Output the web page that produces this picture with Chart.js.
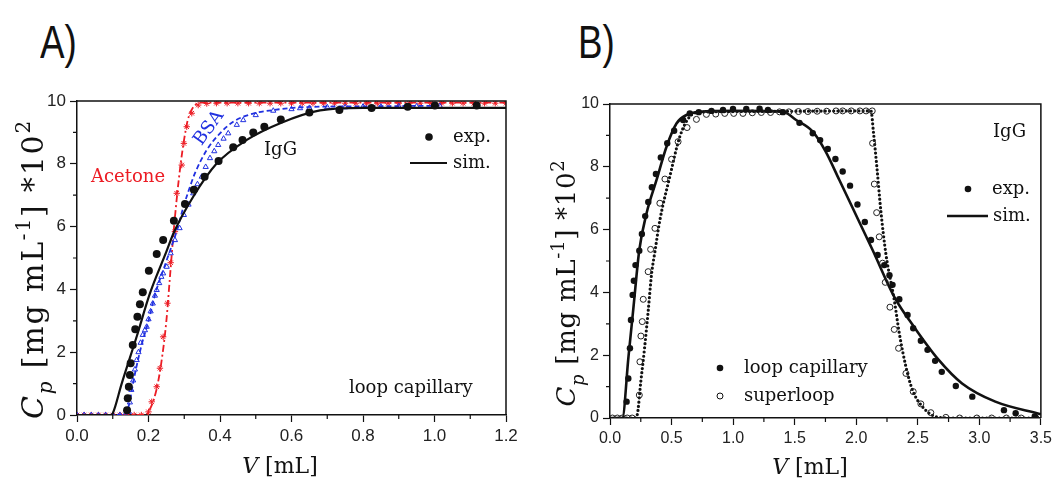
<!DOCTYPE html>
<html>
<head>
<meta charset="utf-8">
<script src="https://cdn.jsdelivr.net/npm/chart.js@4.4.1/dist/chart.umd.min.js"></script>
<style>
  body { margin: 0; background: #fff; width: 1056px; height: 479px; overflow: hidden; position: relative; }
  .panel { position: absolute; top: 0; width: 528px; height: 479px; }
  .tag { position: absolute; top: 19px; line-height: 46px; font-family: "Liberation Sans", Arial, sans-serif; font-size: 46px; color: #111; transform: scaleX(0.8); transform-origin: left center; }
</style>
</head>
<body>
<div class="tag" style="left:40px">A)</div>
<div class="tag" style="left:578px">B)</div>
<div class="panel" style="left:0"><canvas id="chartA" width="528" height="479"></canvas></div>
<div class="panel" style="left:528px"><canvas id="chartB" width="528" height="479"></canvas></div>

<script>
// =================== DATA: panel A (loop capillary) ===================
const acetoneExpV = [0.0, 0.02, 0.04, 0.06, 0.08, 0.10, 0.12, 0.14, 0.16, 0.18, 0.200, 0.209, 0.223, 0.232, 0.241, 0.253, 0.262, 0.274, 0.279, 0.293, 0.299, 0.307, 0.321, 0.339, 0.363, 0.39, 0.42, 0.45, 0.48, 0.51, 0.54, 0.57, 0.60, 0.63, 0.66, 0.69, 0.72, 0.75, 0.78, 0.81, 0.84, 0.87, 0.90, 0.93, 0.96, 0.99, 1.02, 1.05, 1.08, 1.11, 1.14, 1.17, 1.20];
const acetoneExpC = [0, 0, 0, 0, 0, 0, 0, 0, 0, 0, 0.10, 0.42, 0.90, 1.49, 2.49, 3.56, 4.85, 5.84, 7.06, 7.96, 8.65, 9.18, 9.61, 9.87, 9.92, 9.93, 9.93, 9.93, 9.93, 9.93, 9.93, 9.93, 9.93, 9.93, 9.93, 9.93, 9.93, 9.93, 9.93, 9.93, 9.93, 9.93, 9.93, 9.93, 9.93, 9.93, 9.93, 9.93, 9.93, 9.93, 9.93, 9.93, 9.93];
const acetoneSimV = [0, 0.19, 0.20, 0.22, 0.235, 0.25, 0.26, 0.27, 0.28, 0.29, 0.30, 0.31, 0.325, 0.345, 1.2];
const acetoneSimC = [0, 0, 0.1, 0.7, 1.6, 3.0, 4.4, 5.8, 7.0, 8.0, 8.8, 9.4, 9.8, 9.95, 9.95];

const bsaExpV = [0.0, 0.02, 0.04, 0.06, 0.08, 0.10, 0.12, 0.135, 0.145, 0.148, 0.152, 0.157, 0.162, 0.167, 0.172, 0.178, 0.184, 0.190, 0.195, 0.200, 0.206, 0.212, 0.218, 0.223, 0.230, 0.236, 0.241, 0.251, 0.262, 0.274, 0.287, 0.299, 0.312, 0.325, 0.337, 0.349, 0.360, 0.372, 0.384, 0.395, 0.410, 0.423, 0.447, 0.465, 0.50, 0.549, 0.60, 0.624, 0.65, 0.70, 0.75, 0.80, 0.85, 0.90, 0.95, 1.00, 1.015];
const bsaExpC = [0, 0, 0, 0, 0, 0, 0, 0.02, 0.1, 0.4, 0.8, 1.1, 1.45, 1.75, 2.0, 2.3, 2.55, 2.7, 2.81, 3.05, 3.3, 3.55, 3.8, 3.98, 4.2, 4.4, 4.51, 4.72, 5.15, 5.57, 5.95, 6.37, 6.7, 7.06, 7.35, 7.59, 7.9, 8.18, 8.4, 8.6, 8.8, 8.97, 9.24, 9.39, 9.55, 9.69, 9.74, 9.77, 9.78, 9.8, 9.8, 9.82, 9.82, 9.83, 9.83, 9.84, 9.84];
const bsaSimV = [0, 0.13, 0.145, 0.16, 0.18, 0.20, 0.22, 0.25, 0.28, 0.297, 0.311, 0.33, 0.363, 0.40, 0.437, 0.493, 0.549, 0.624, 0.80, 1.02];
const bsaSimC = [0, 0, 0.3, 1.2, 2.2, 3.0, 3.9, 4.9, 5.9, 6.6, 7.1, 7.7, 8.44, 8.97, 9.34, 9.6, 9.71, 9.8, 9.83, 9.85];

const iggExpV = [0.140, 0.142, 0.145, 0.148, 0.150, 0.156, 0.163, 0.169, 0.176, 0.184, 0.201, 0.223, 0.241, 0.271, 0.302, 0.327, 0.357, 0.396, 0.437, 0.463, 0.493, 0.524, 0.570, 0.650, 0.734, 0.824, 0.925, 1.001, 1.118];
const iggExpC = [0.15, 0.53, 0.90, 1.27, 1.65, 2.23, 2.73, 3.13, 3.53, 3.91, 4.59, 5.13, 5.57, 6.19, 6.72, 7.17, 7.59, 8.09, 8.53, 8.76, 9.00, 9.18, 9.41, 9.63, 9.71, 9.78, 9.82, 9.86, 9.86];
const iggSimV = [0, 0.095, 0.10, 0.125, 0.167, 0.204, 0.25, 0.27, 0.325, 0.39, 0.475, 0.57, 0.68, 0.80, 1.2];
const iggSimC = [0, 0, 0.05, 1.0, 2.5, 3.87, 5.2, 5.79, 6.95, 8.0, 8.76, 9.3, 9.7, 9.78, 9.78];

const ticksA_x = [0, 0.2, 0.4, 0.6, 0.8, 1.0, 1.2];
const ticksA_y = [0, 2, 4, 6, 8, 10];

// =================== DATA: panel B (IgG, loop capillary vs superloop) ===================
const loopExpV = [0.135, 0.149, 0.162, 0.170, 0.184, 0.194, 0.207, 0.238, 0.259, 0.286, 0.311, 0.340, 0.373, 0.413, 0.465, 0.521, 0.594, 0.648, 0.721, 0.824, 0.918, 0.999, 1.107, 1.215, 1.283, 1.405, 1.539, 1.647, 1.707, 1.769, 1.831, 1.89, 1.95, 2.01, 2.07, 2.12, 2.174, 2.228, 2.27, 2.295, 2.35, 2.417, 2.463, 2.525, 2.579, 2.641, 2.695, 2.809, 2.943, 3.20, 3.295, 3.45];
const loopExpC = [0.52, 1.26, 2.22, 3.12, 3.92, 4.37, 4.87, 5.33, 5.86, 6.43, 6.88, 7.35, 7.77, 8.30, 8.75, 9.15, 9.49, 9.70, 9.74, 9.78, 9.81, 9.84, 9.84, 9.85, 9.81, 9.74, 9.40, 9.07, 8.85, 8.57, 8.25, 7.85, 7.40, 6.80, 6.24, 5.67, 5.19, 4.87, 4.55, 4.24, 3.78, 3.28, 2.86, 2.46, 2.17, 1.82, 1.47, 1.02, 0.68, 0.25, 0.15, 0.05];
const loopSimV = [0, 0.10, 0.15, 0.19, 0.238, 0.297, 0.378, 0.459, 0.54, 0.621, 0.729, 1.0, 1.4, 1.512, 1.647, 1.75, 1.863, 2.0, 2.133, 2.309, 2.47, 2.67, 2.86, 3.13, 3.5];
const loopSimC = [0, 0, 1.95, 3.5, 5.35, 6.52, 7.58, 8.64, 9.38, 9.65, 9.75, 9.78, 9.76, 9.49, 9.12, 8.5, 7.58, 6.45, 5.35, 3.86, 2.9, 1.85, 1.1, 0.52, 0.12];

const superExpV = [0.02, 0.06, 0.10, 0.14, 0.18, 0.238, 0.243, 0.251, 0.262, 0.270, 0.310, 0.330, 0.365, 0.405, 0.446, 0.500, 0.553, 0.626, 0.702, 0.783, 0.859, 0.932, 1.005, 1.080, 1.156, 1.229, 1.304, 1.377, 1.453, 1.531, 1.607, 1.683, 1.760, 1.836, 1.89, 1.96, 2.03, 2.08, 2.13, 2.133, 2.147, 2.166, 2.187, 2.214, 2.236, 2.274, 2.309, 2.344, 2.404, 2.463, 2.525, 2.606, 2.728, 2.84, 2.98, 3.10, 3.22, 3.34, 3.46];
const superExpC = [0, 0, 0, 0, 0, 0.73, 1.79, 2.61, 3.07, 3.78, 4.66, 5.37, 6.04, 6.84, 7.61, 8.24, 8.80, 9.25, 9.51, 9.67, 9.68, 9.70, 9.70, 9.70, 9.72, 9.73, 9.73, 9.75, 9.75, 9.76, 9.76, 9.77, 9.77, 9.78, 9.78, 9.78, 9.78, 9.78, 9.78, 8.75, 7.45, 6.54, 5.77, 4.93, 4.32, 3.53, 2.82, 2.22, 1.42, 0.84, 0.45, 0.17, 0.02, 0, 0, 0, 0, 0, 0];
const superSimV = [0, 0.20, 0.221, 0.25, 0.28, 0.31, 0.338, 0.365, 0.405, 0.486, 0.567, 0.648, 0.73, 1.0, 2.12, 2.14, 2.17, 2.20, 2.242, 2.309, 2.35, 2.404, 2.457, 2.538, 2.647, 2.75, 3.5];
const superSimC = [0, 0, 0.1, 1.15, 2.2, 3.4, 4.6, 5.3, 6.3, 7.69, 8.96, 9.6, 9.74, 9.76, 9.78, 9.1, 7.9, 6.6, 5.2, 3.76, 2.7, 1.63, 0.89, 0.36, 0.04, 0, 0];

const ticksB_x = [0, 0.5, 1.0, 1.5, 2.0, 2.5, 3.0, 3.5];
const ticksB_y = [0, 2, 4, 6, 8, 10];

const RED = '#ec1c24';
const BLUE = '#2030e0';
const SERIF = '"DejaVu Serif", serif';

function pts(vs, cs) {
  return vs.map((v, i) => ({ x: v, y: cs[i] }));
}

// =================== DRAW HELPERS ===================
function text(ctx, str, x, y, font, color, align) {
  ctx.save();
  ctx.font = font;
  ctx.fillStyle = color || '#111';
  ctx.textAlign = align || 'left';
  ctx.textBaseline = 'middle';
  ctx.fillText(str, x, y);
  ctx.restore();
}

// rotated y title: C_p [mg mL^-1] *10^2
function drawYTitle(ctx, cx, cy, size, target) {
  const segs = [
    { t: 'C', it: true, dy: 0, k: 1 },
    { t: 'p', it: true, dy: 0.32, k: 0.68 },
    { t: ' [mg mL', it: false, dy: 0, k: 1 },
    { t: '-1', it: false, dy: -0.42, k: 0.68 },
    { t: '] *10', it: false, dy: 0, k: 1 },
    { t: '2', it: false, dy: -0.42, k: 0.68 }
  ];
  ctx.save();
  ctx.translate(cx, cy);
  ctx.rotate(-Math.PI / 2);
  ctx.fillStyle = '#111';
  ctx.textBaseline = 'alphabetic';
  let w0 = 0, n = 0;
  segs.forEach(s => {
    ctx.font = (s.it ? 'italic ' : '') + Math.round(size * s.k) + 'px ' + SERIF;
    s.w = ctx.measureText(s.t).width;
    w0 += s.w;
    n += s.t.length;
  });
  const ls = Math.max(0, (target - w0) / n);
  let x = -target / 2;
  segs.forEach(s => {
    ctx.font = (s.it ? 'italic ' : '') + Math.round(size * s.k) + 'px ' + SERIF;
    ctx.letterSpacing = ls + 'px';
    ctx.fillText(s.t, x, size * 0.36 + s.dy * size);
    x += s.w + ls * s.t.length;
  });
  ctx.restore();
}

function drawXTitle(ctx, cx, cy, size) {
  ctx.save();
  ctx.fillStyle = '#111';
  ctx.textBaseline = 'middle';
  ctx.font = 'italic ' + size + 'px ' + SERIF;
  const w1 = ctx.measureText('V').width;
  ctx.font = size + 'px ' + SERIF;
  const w2 = ctx.measureText(' [mL]').width;
  let x = cx - (w1 + w2) / 2;
  ctx.font = 'italic ' + size + 'px ' + SERIF;
  ctx.fillText('V', x, cy);
  ctx.font = size + 'px ' + SERIF;
  ctx.fillText(' [mL]', x + w1, cy);
  ctx.restore();
}

function frameAndMinor(chart, minorX, minorY) {
  const { ctx, chartArea: a, scales } = chart;
  ctx.save();
  ctx.strokeStyle = '#111';
  ctx.lineWidth = 1.5;
  ctx.beginPath();
  ctx.moveTo(a.left, a.top);
  ctx.lineTo(a.right, a.top);
  ctx.lineTo(a.right, a.bottom);
  ctx.stroke();
  ctx.lineWidth = 1.2;
  ctx.beginPath();
  minorX.forEach(v => {
    const px = scales.x.getPixelForValue(v);
    ctx.moveTo(px, a.bottom);
    ctx.lineTo(px, a.bottom + 4);
  });
  minorY.forEach(v => {
    const py = scales.y.getPixelForValue(v);
    ctx.moveTo(a.left, py);
    ctx.lineTo(a.left - 4, py);
  });
  ctx.stroke();
  ctx.restore();
}

function baseScales(xmin, xmax, xTicks, yTicks, fitW, fitH, tickSize) {
  return {
    x: {
      type: 'linear', min: xmin, max: xmax,
      afterFit: s => { s.height = fitH; },
      afterBuildTicks: s => { s.ticks = xTicks.map(v => ({ value: v })); },
      grid: { drawOnChartArea: false, drawTicks: true, tickLength: 7, tickColor: '#111', tickWidth: 1.2 },
      border: { display: true, color: '#111', width: 1.5 },
      ticks: { font: { family: '"Liberation Sans", Arial, sans-serif', size: tickSize }, color: '#222', padding: 4, maxRotation: 0, callback: v => Number(v).toFixed(1) }
    },
    y: {
      type: 'linear', min: 0, max: 10,
      afterFit: s => { s.width = fitW; },
      afterBuildTicks: s => { s.ticks = yTicks.map(v => ({ value: v })); },
      grid: { drawOnChartArea: false, drawTicks: true, tickLength: 7, tickColor: '#111', tickWidth: 1.2 },
      border: { display: true, color: '#111', width: 1.5 },
      ticks: { font: { family: '"Liberation Sans", Arial, sans-serif', size: tickSize }, color: '#222', padding: 4, callback: v => String(v) }
    }
  };
}

// =================== PANEL A ===================
const panelA = {
  id: 'panelA',
  afterDraw(chart) {
    const ctx = chart.ctx;
    frameAndMinor(chart, [0.1, 0.3, 0.5, 0.7, 0.9, 1.1], [1, 3, 5, 7, 9]);
    const f = '18px ' + SERIF;
    text(ctx, 'Acetone', 91, 177, f, RED);
    text(ctx, 'IgG', 264, 150, f, '#111');
    ctx.save();
    ctx.translate(209, 128);
    ctx.rotate(-54 * Math.PI / 180);
    text(ctx, 'BSA', 0, 0, f, BLUE, 'center');
    ctx.restore();
    // legend
    ctx.save();
    ctx.fillStyle = '#111';
    ctx.beginPath(); ctx.arc(429, 137, 3.8, 0, Math.PI * 2); ctx.fill();
    ctx.lineWidth = 2.2; ctx.strokeStyle = '#111';
    ctx.beginPath(); ctx.moveTo(410, 163); ctx.lineTo(447, 163); ctx.stroke();
    ctx.restore();
    text(ctx, 'exp.', 453, 137, f, '#111');
    text(ctx, 'sim.', 453, 163, f, '#111');
    text(ctx, 'loop capillary', 349, 388, f, '#111');
    drawYTitle(ctx, 32, 269, 30, 300);
    drawXTitle(ctx, 280, 467, 22);
  }
};

new Chart(document.getElementById('chartA'), {
  type: 'scatter',
  data: {
    datasets: [
      { data: pts(iggExpV, iggExpC), pointStyle: 'circle', pointRadius: 4, backgroundColor: '#111', borderColor: '#111', borderWidth: 0 },
      { data: pts(iggSimV, iggSimC), showLine: true, borderColor: '#111', borderWidth: 2.2, pointRadius: 0, cubicInterpolationMode: 'monotone' },
      { data: pts(bsaExpV, bsaExpC), pointStyle: 'triangle', pointRadius: 3, backgroundColor: 'rgba(0,0,0,0)', borderColor: BLUE, borderWidth: 1 },
      { data: pts(bsaSimV, bsaSimC), showLine: true, borderColor: BLUE, borderWidth: 1.8, borderDash: [5, 3], pointRadius: 0, cubicInterpolationMode: 'monotone' },
      { data: pts(acetoneExpV, acetoneExpC), pointStyle: 'star', pointRadius: 3.2, backgroundColor: 'rgba(0,0,0,0)', borderColor: RED, borderWidth: 1 },
      { data: pts(acetoneSimV, acetoneSimC), showLine: true, borderColor: RED, borderWidth: 1.8, borderDash: [7, 3, 2, 3], pointRadius: 0, cubicInterpolationMode: 'monotone' }
    ]
  },
  options: {
    responsive: false,
    animation: false,
    layout: { padding: { left: 0, top: 101, right: 22, bottom: 0 } },
    plugins: { legend: { display: false }, tooltip: { enabled: false } },
    scales: baseScales(0, 1.2, ticksA_x, ticksA_y, 77, 64, 17)
  },
  plugins: [panelA]
});

// =================== PANEL B ===================
const panelB = {
  id: 'panelB',
  afterDraw(chart) {
    const ctx = chart.ctx;
    frameAndMinor(chart, [0.25, 0.75, 1.25, 1.75, 2.25, 2.75, 3.25], [1, 3, 5, 7, 9]);
    const f = '18px ' + SERIF;
    text(ctx, 'IgG', 465, 132, f, '#111');
    ctx.save();
    ctx.fillStyle = '#111';
    ctx.beginPath(); ctx.arc(440, 189, 3.3, 0, Math.PI * 2); ctx.fill();
    ctx.lineWidth = 2.6; ctx.strokeStyle = '#111';
    ctx.beginPath(); ctx.moveTo(419, 216); ctx.lineTo(460, 216); ctx.stroke();
    ctx.beginPath(); ctx.arc(192, 368, 3.3, 0, Math.PI * 2); ctx.fill();
    ctx.lineWidth = 1;
    ctx.beginPath(); ctx.arc(192, 396, 3, 0, Math.PI * 2); ctx.stroke();
    ctx.restore();
    text(ctx, 'exp.', 464, 189, f, '#111');
    text(ctx, 'sim.', 465, 216, f, '#111');
    text(ctx, 'loop capillary', 216, 368, f, '#111');
    text(ctx, 'superloop', 216, 396, f, '#111');
    drawYTitle(ctx, 38, 283, 26, 247);
    drawXTitle(ctx, 282, 468, 22);
  }
};

new Chart(document.getElementById('chartB'), {
  type: 'scatter',
  data: {
    datasets: [
      { data: pts(loopExpV, loopExpC), pointStyle: 'circle', pointRadius: 3.2, backgroundColor: '#111', borderColor: '#111', borderWidth: 0 },
      { data: pts(superExpV, superExpC), pointStyle: 'circle', pointRadius: 3, backgroundColor: 'rgba(255,255,255,0)', borderColor: '#222', borderWidth: 1 },
      { data: pts(loopSimV, loopSimC), showLine: true, borderColor: '#111', borderWidth: 2.6, pointRadius: 0, cubicInterpolationMode: 'monotone' },
      { data: pts(superSimV, superSimC), showLine: true, borderColor: '#111', borderWidth: 3.2, borderDash: [0, 4.2], borderCapStyle: 'round', pointRadius: 0, cubicInterpolationMode: 'monotone' }
    ]
  },
  options: {
    responsive: false,
    animation: false,
    layout: { padding: { left: 0, top: 104, right: 14, bottom: 0 } },
    plugins: { legend: { display: false }, tooltip: { enabled: false } },
    scales: baseScales(0, 3.5, ticksB_x, ticksB_y, 82, 61, 16)
  },
  plugins: [panelB]
});
</script>
</body>
</html>
